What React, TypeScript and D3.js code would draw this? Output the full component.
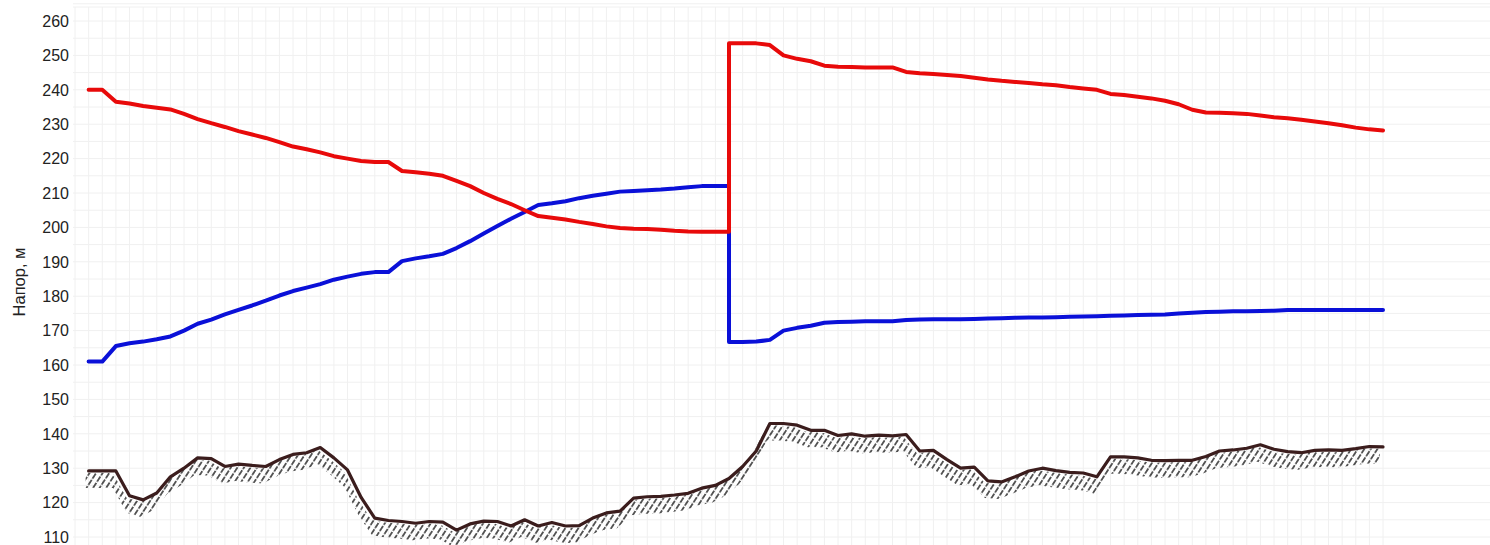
import React from "react";
import * as d3 from "d3";

const yTicks = [110, 120, 130, 140, 150, 160, 170, 180, 190, 200, 210, 220, 230, 240, 250, 260];

// station index (vertical grid step) 1..96; jump at station 48
const terrain = [
  129.2, 129.2, 129.2, 122, 120.8, 122.8, 127.5, 130, 133, 132.8,
  130.5, 131.2, 130.8, 130.5, 132.5, 134, 134.5, 136, 133, 129.5,
  121.5, 115.5, 114.8, 114.5, 114, 114.5, 114.3, 112, 113.8, 114.6,
  114.5, 113.2, 115, 113.2, 114.2, 113.2, 113.3, 115.5, 117, 117.5,
  121.3, 121.7, 121.8, 122.2, 122.7, 124.2, 125, 127, 130.5, 135,
  143, 143, 142.5, 141, 141, 139.5, 140, 139.3, 139.6, 139.4,
  139.8, 135, 135.2, 132.5, 130, 130.3, 126.3, 126, 127.5, 129.2,
  130, 129.3, 128.8, 128.6, 127.5, 133.3, 133.3, 133, 132.3, 132.2,
  132.3, 132.3, 133.4, 135, 135.3, 135.8, 136.8, 135.5, 134.8, 134.5,
  135.2, 135.3, 135.2, 135.7, 136.3, 136.2,
];

// stations 1..48
const redLeft = [
  240, 240, 236.5, 236, 235.3, 234.8, 234.3, 233, 231.5, 230.3,
  229.2, 228, 227, 226, 224.8, 223.5, 222.7, 221.8, 220.7, 220,
  219.3, 219, 219, 216.4, 216, 215.6, 215, 213.5, 212, 210,
  208.3, 206.8, 205, 203.3, 202.8, 202.3, 201.6, 201, 200.3, 199.8,
  199.6, 199.5, 199.3, 199, 198.8, 198.7, 198.7, 198.7,
];
const blueLeft = [
  161, 161, 165.5, 166.3, 166.8, 167.5, 168.3, 170, 172, 173.2,
  174.7, 176, 177.3, 178.7, 180.2, 181.5, 182.5, 183.5, 184.8, 185.7,
  186.5, 187, 187, 190.2, 191, 191.6, 192.3, 194, 196, 198.2,
  200.4, 202.5, 204.5, 206.5, 207, 207.6, 208.5, 209.2, 209.8, 210.4,
  210.6, 210.8, 211, 211.3, 211.7, 212, 212, 212,
];
// stations 48..96
const redRight = [
  253.5, 253.5, 253.5, 253, 250, 249, 248.3, 247, 246.7, 246.6,
  246.5, 246.5, 246.5, 245.2, 244.8, 244.6, 244.3, 244, 243.5, 243,
  242.6, 242.3, 242, 241.6, 241.3, 240.8, 240.4, 240, 238.8, 238.5,
  238, 237.5, 236.8, 235.8, 234.2, 233.4, 233.3, 233.2, 233, 232.5,
  232, 231.7, 231.3, 230.8, 230.3, 229.7, 229, 228.5, 228.2,
];
const blueRight = [
  166.7, 166.7, 166.8, 167.3, 170, 170.8, 171.4, 172.3, 172.5, 172.6,
  172.7, 172.7, 172.7, 173.1, 173.2, 173.3, 173.3, 173.3, 173.4, 173.5,
  173.6, 173.7, 173.8, 173.8, 173.9, 174, 174.1, 174.2, 174.3, 174.4,
  174.5, 174.6, 174.7, 175, 175.2, 175.4, 175.5, 175.6, 175.6, 175.7,
  175.8, 176, 176, 176, 176, 176, 176, 176, 176,
];

const W = 1490;
const H = 545;

export default function App() {
  const x = d3.scaleLinear().domain([0, 96]).range([75, 1383]);
  const y = d3.scaleLinear().domain([110, 260]).range([537, 21]);

  const leftPts = (arr: number[]) => arr.map((v, i) => [i + 1, v] as [number, number]);
  const rightPts = (arr: number[]) => arr.map((v, i) => [i + 48, v] as [number, number]);

  const line = d3
    .line<[number, number]>()
    .x((d) => x(d[0]))
    .y((d) => y(d[1]));

  const redPath = line([...leftPts(redLeft), ...rightPts(redRight)]) || "";
  const bluePath = line([...leftPts(blueLeft), ...rightPts(blueRight)]) || "";
  const terrPts = terrain.map((v, i) => [i + 1, v] as [number, number]);
  const terrPath = line(terrPts) || "";

  const hatchArea = d3
    .area<[number, number]>()
    .x((d) => x(d[0]) - 3)
    .y0((d) => y(d[1]) + 2)
    .y1((d) => y(d[1]) + 17);
  const hatchPath = hatchArea(terrPts) || "";

  const hGrid = d3.range(110, 266, 5);
  const vGrid = d3.range(0, 97, 1);

  return (
    <svg
      width={W}
      height={H}
      style={{ position: "absolute", left: 0, top: 0, background: "#fff" }}
      fontFamily="'Liberation Sans', Arial, sans-serif"
    >
      <defs>
        <pattern
          id="hatch"
          patternUnits="userSpaceOnUse"
          width={5.5}
          height={7.5}
          patternTransform="rotate(33)"
        >
          <line x1={2.75} y1={0} x2={2.75} y2={7.5} stroke="#1e1e1e" strokeWidth={1.4} strokeDasharray="6 1.5" />
        </pattern>
      </defs>
      <rect x={0} y={0} width={W} height={H} fill="#fff" />
      <g>
        {hGrid.map((v) => (
          <line key={"h" + v} x1={73} x2={W} y1={y(v)} y2={y(v)} stroke="#f0f0f0" strokeWidth={1} />
        ))}
        <line x1={73} x2={W} y1={7} y2={7} stroke="#f0f0f0" strokeWidth={1} />
        {vGrid.map((v) => (
          <line key={"v" + v} x1={x(v)} x2={x(v)} y1={7} y2={H} stroke="#f0f0f0" strokeWidth={1} />
        ))}
      </g>
      <g fontSize={16} fill="#222" textAnchor="end">
        {yTicks.map((t) => (
          <text key={t} x={69} y={y(t)} dy="0.36em">
            {t}
          </text>
        ))}
      </g>
      <text
        transform={`translate(25,${282}) rotate(-90)`}
        textAnchor="middle"
        fontSize={16.5}
        fill="#222"
      >
        Напор, м
      </text>
      <path d={hatchPath} fill="url(#hatch)" stroke="none" />
      <path d={terrPath} fill="none" stroke="#3b1d1d" strokeWidth={3.2} strokeLinejoin="round" strokeLinecap="round" />
      <path d={bluePath} fill="none" stroke="#0a10d8" strokeWidth={4} strokeLinejoin="round" strokeLinecap="round" />
      <path d={redPath} fill="none" stroke="#e80a0a" strokeWidth={4} strokeLinejoin="round" strokeLinecap="round" />
    </svg>
  );
}
